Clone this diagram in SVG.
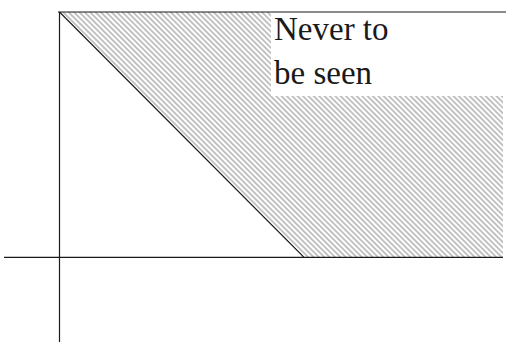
<svg xmlns="http://www.w3.org/2000/svg" width="512" height="342" viewBox="0 0 512 342">
  <style>
    .ax { stroke: #1a1a1a; stroke-width: 1.2; fill: none; }
    .lbl { font-family: "Liberation Serif", "DejaVu Serif", serif; font-size: 33px; fill: #1a1a1a; }
  </style>
  <defs>
    <pattern id="hatch" patternUnits="userSpaceOnUse" width="3.8" height="10" patternTransform="rotate(-45)">
      <line x1="1.9" y1="-1" x2="1.9" y2="11" stroke="#666666" stroke-width="0.8"/>
    </pattern>
  </defs>
  <rect width="512" height="342" fill="#ffffff"/>
  <g id="hatched-region">
    <polygon points="59.5,12 503,12 503,257 304,257" fill="url(#hatch)"/>
  </g>
  <g id="label-box">
    <rect x="271" y="12" width="232" height="84" fill="#ffffff"/>
    <text class="lbl" x="274" y="40">Never to</text>
    <text class="lbl" x="274" y="84">be seen</text>
  </g>
  <g id="connectors">
    <line class="ax" x1="58" y1="12" x2="506" y2="12"/>
    <line class="ax" x1="4" y1="257.3" x2="503" y2="257.3"/>
    <line class="ax" x1="59.5" y1="12" x2="59.5" y2="342"/>
    <line class="ax" x1="59.5" y1="12" x2="304" y2="257.3"/>
  </g>
</svg>
